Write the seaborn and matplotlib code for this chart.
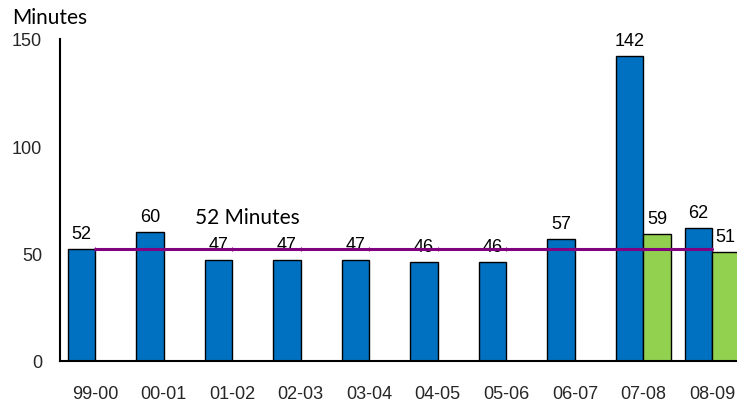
import matplotlib
matplotlib.use("Agg")
import matplotlib.pyplot as plt
import seaborn as sns
import pandas as pd

# Response times by fiscal year
years = ["99-00", "00-01", "01-02", "02-03", "03-04", "04-05", "05-06", "06-07", "07-08", "08-09"]
initial_minutes = [52, 60, 47, 47, 47, 46, 46, 57, 142, 62]
revised_years = ["07-08", "08-09"]
revised_minutes = [59, 51]
average_minutes = 52
y_ticks = [0, 50, 100, 150]

rows = [{"year": y, "series": "Initial", "minutes": v} for y, v in zip(years, initial_minutes)]
rows += [{"year": y, "series": "Revised", "minutes": v} for y, v in zip(revised_years, revised_minutes)]
df = pd.DataFrame(rows)

sns.set_theme(style="white")
plt.rcParams["font.family"] = ["Liberation Sans", "DejaVu Sans"]

fig = plt.figure(figsize=(7.37, 4.02), dpi=100)
ax = fig.add_axes([60 / 737, 40 / 402, 677 / 737, 322 / 402])

sns.barplot(
    data=df, x="year", y="minutes", hue="series",
    order=years, hue_order=["Initial", "Revised"],
    palette={"Initial": "#0070C0", "Revised": "#92D050"},
    width=0.8, gap=0, edgecolor="black", linewidth=1,
    saturation=1, legend=False, ax=ax, errorbar=None,
)

for container in ax.containers:
    ax.bar_label(container, fmt="%d", padding=5, fontsize=13, color="black")

# Average line across all years
xs = list(range(len(years)))
ax.plot(xs, [average_minutes] * len(years), color="#800080", lw=2.2,
        marker="|", markersize=3, markeredgewidth=0.8, zorder=5)
ax.text(2.22, 67, f"{average_minutes} Minutes", fontsize=15, family=["Lato", "DejaVu Sans"],
        ha="center", va="center", color="black")

ax.set_xlim(-0.51, 9.365)
ax.set_ylim(0, 150)
ax.set_yticks(y_ticks)
ax.set_xlabel("")
ax.set_ylabel("")
ax.tick_params(axis="y", length=0, pad=13, labelsize=13)
ax.tick_params(axis="x", length=0, pad=17, labelsize=13)
for s in ["top", "right"]:
    ax.spines[s].set_visible(False)
for s in ["left", "bottom"]:
    ax.spines[s].set_color("black")
    ax.spines[s].set_linewidth(1.5)

fig.text(12 / 737, 1 - 18 / 402, "Minutes", fontsize=15, family=["Lato", "DejaVu Sans"],
         ha="left", va="center", color="black")

fig.savefig("out.png", dpi=100)
